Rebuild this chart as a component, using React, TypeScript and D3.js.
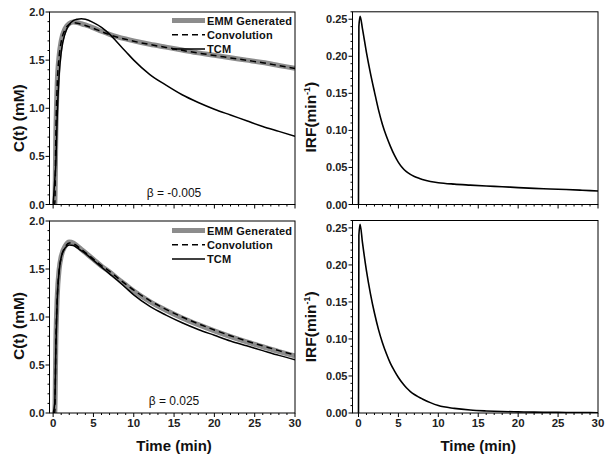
import React from "react";
import * as d3 from "d3";

// ---- Data ----
const timeC = [0, 0.2, 0.35, 0.5, 0.75, 1, 1.5, 2, 2.5, 3, 3.5, 4, 5, 6, 7, 8, 9, 10, 12, 14, 16, 18, 20, 22, 24, 26, 28, 30];

const emmTop = [0, 0, 0.8, 1.25, 1.55, 1.7, 1.83, 1.88, 1.895, 1.89, 1.878, 1.865, 1.835, 1.8, 1.768, 1.742, 1.72, 1.7, 1.665, 1.635, 1.605, 1.575, 1.55, 1.525, 1.5, 1.475, 1.445, 1.415];
const convTop = [0, 0, 0.78, 1.23, 1.54, 1.69, 1.82, 1.872, 1.888, 1.884, 1.873, 1.86, 1.83, 1.796, 1.764, 1.738, 1.716, 1.696, 1.662, 1.632, 1.602, 1.573, 1.548, 1.523, 1.498, 1.473, 1.443, 1.413];
const tcmTop = [0, 0.25, 0.45, 0.9, 1.35, 1.58, 1.78, 1.87, 1.91, 1.925, 1.93, 1.925, 1.89, 1.84, 1.77, 1.68, 1.59, 1.5, 1.35, 1.24, 1.14, 1.06, 0.99, 0.93, 0.87, 0.81, 0.76, 0.71];

const emmBot = [0, 0, 0.8, 1.2, 1.5, 1.63, 1.74, 1.78, 1.77, 1.74, 1.705, 1.67, 1.6, 1.53, 1.47, 1.4, 1.335, 1.27, 1.16, 1.07, 0.99, 0.92, 0.855, 0.795, 0.74, 0.69, 0.64, 0.595];
const convBot = [0, 0, 0.78, 1.18, 1.49, 1.62, 1.73, 1.772, 1.765, 1.738, 1.705, 1.672, 1.603, 1.535, 1.476, 1.408, 1.343, 1.28, 1.17, 1.08, 1.0, 0.93, 0.865, 0.805, 0.75, 0.7, 0.65, 0.605];
const tcmBot = [0, 0.1, 0.7, 1.15, 1.48, 1.62, 1.72, 1.75, 1.745, 1.72, 1.69, 1.66, 1.59, 1.52, 1.45, 1.38, 1.305, 1.23, 1.11, 1.02, 0.94, 0.87, 0.81, 0.75, 0.7, 0.65, 0.6, 0.555];

const timeIRF = [0, 0.05, 0.2, 0.5, 1, 1.5, 2, 2.5, 3, 3.5, 4, 4.5, 5, 5.5, 6, 6.5, 7, 7.5, 8, 9, 10, 12, 14, 16, 18, 20, 22, 24, 26, 28, 30];
const irfTop = [0, 0.24, 0.254, 0.237, 0.205, 0.177, 0.152, 0.128, 0.108, 0.092, 0.0785, 0.0665, 0.0568, 0.0495, 0.0443, 0.0406, 0.0378, 0.0356, 0.0338, 0.0311, 0.0294, 0.0275, 0.0262, 0.025, 0.024, 0.0228, 0.0218, 0.021, 0.0202, 0.0192, 0.0182];
const irfBot = [0, 0.24, 0.255, 0.23, 0.192, 0.161, 0.135, 0.113, 0.095, 0.08, 0.067, 0.057, 0.048, 0.0405, 0.034, 0.029, 0.025, 0.0218, 0.019, 0.014, 0.01, 0.0062, 0.004, 0.0028, 0.002, 0.0015, 0.0012, 0.0009, 0.0007, 0.0005, 0.0004];

const xTicks = [0, 5, 10, 15, 20, 25, 30];
const cTicks = [0.0, 0.5, 1.0, 1.5, 2.0];
const irfTicks = [0.0, 0.05, 0.1, 0.15, 0.2, 0.25];
const legendLabels = ["EMM Generated", "Convolution", "TCM"];
const betaLabels = ["β = -0.005", "β = 0.025"];

const FONT = "'Liberation Sans', Arial, sans-serif";

type Series = { values: number[]; t: number[]; color: string; width: number; dash?: string };

function Panel(props: {
  x0: number; x1: number; y0: number; y1: number;
  xDomain: [number, number]; yDomain: [number, number];
  yTicks: number[]; yFmt: (v: number) => string; yMinorStep: number;
  series: Series[]; showXLabels: boolean; yLabel: React.ReactNode; yLabelX: number; yLabelShift: number;
  legend?: { x: number; y: number }; beta?: string;
}) {
  const { x0, x1, y0, y1 } = props;
  const xs = d3.scaleLinear().domain(props.xDomain).range([x0, x1]);
  const ys = d3.scaleLinear().domain(props.yDomain).range([y1, y0]);
  const minorX = d3.range(0, 31, 1).filter((v) => v % 5 !== 0);
  const minorY: number[] = [];
  for (let v = props.yDomain[0]; v <= props.yDomain[1] + 1e-9; v += props.yMinorStep) {
    const isMajor = props.yTicks.some((m) => Math.abs(m - v) < 1e-6);
    if (!isMajor) minorY.push(v);
  }
  return (
    <g>
      <defs>
        <clipPath id={`clip-${x0}-${y0}`}>
          <rect x={x0} y={y0} width={x1 - x0} height={y1 - y0} />
        </clipPath>
      </defs>
      <g clipPath={`url(#clip-${x0}-${y0})`}>
        {props.series.map((s, i) => {
          const line = d3
            .line<number>()
            .x((_, j) => xs(s.t[j]))
            .y((d) => ys(d))
            .curve(d3.curveMonotoneX);
          return (
            <path key={i} d={line(s.values) || ""} fill="none" stroke={s.color} strokeWidth={s.width}
              strokeDasharray={s.dash} strokeLinejoin="round" />
          );
        })}
      </g>
      <rect x={x0} y={y0} width={x1 - x0} height={y1 - y0} fill="none" stroke="#000" strokeWidth={1} />
      {xTicks.map((v) => (
        <line key={"xt" + v} x1={xs(v)} x2={xs(v)} y1={y1} y2={y1 + 4} stroke="#000" />
      ))}
      {minorX.map((v) => (
        <line key={"xm" + v} x1={xs(v)} x2={xs(v)} y1={y1} y2={y1 + 2} stroke="#000" />
      ))}
      {props.showXLabels &&
        xTicks.map((v) => (
          <text key={"xl" + v} x={xs(v)} y={y1 + 14} textAnchor="middle" fontSize={11.5} fontWeight="bold" fontFamily={FONT} fill="#222">
            {v}
          </text>
        ))}
      {props.yTicks.map((v) => (
        <g key={"yt" + v}>
          <line x1={x0 - 4} x2={x0} y1={ys(v)} y2={ys(v)} stroke="#000" />
          <text x={x0 - 5} y={ys(v) + 4} textAnchor="end" fontSize={11} fontWeight="bold" fontFamily={FONT} fill="#222">
            {props.yFmt(v)}
          </text>
        </g>
      ))}
      {minorY.map((v, i) => (
        <line key={"ym" + i} x1={x0 - 2} x2={x0} y1={ys(v)} y2={ys(v)} stroke="#000" />
      ))}
      <text transform={`translate(${props.yLabelX},${(y0 + y1) / 2 + props.yLabelShift}) rotate(-90)`} textAnchor="middle"
        fontSize={15.5} fontWeight="bold" fontFamily={FONT} fill="#111">
        {props.yLabel}
      </text>
      {props.showXLabels && (
        <text x={(xs(0) + x1) / 2} y={y1 + 38} textAnchor="middle" fontSize={15} fontWeight="bold" fontFamily={FONT} fill="#111">
          Time (min)
        </text>
      )}
      {props.legend && (
        <g fontFamily={FONT} fontSize={11} fontWeight="bold" fill="#111">
          {legendLabels.map((lab, i) => {
            const s = props.series[i];
            const ly = props.legend!.y + i * 14.3;
            return (
              <g key={lab}>
                <line x1={props.legend!.x} x2={props.legend!.x + 33} y1={ly} y2={ly} stroke={s.color}
                  strokeWidth={s.width} strokeDasharray={s.dash} />
                <text x={props.legend!.x + 35} y={ly + 4.2} letterSpacing={0.15}>{lab}</text>
              </g>
            );
          })}
        </g>
      )}
      {props.beta && (
        <text x={174} y={y1 - 8} textAnchor="middle" fontFamily={FONT} fontSize={12} fill="#111">
          {props.beta}
        </text>
      )}
    </g>
  );
}

export default function App() {
  const gray = "#8c8c8c";
  const topSeries: Series[] = [
    { values: emmTop, t: timeC, color: gray, width: 5 },
    { values: convTop, t: timeC, color: "#000", width: 1.5, dash: "6,4" },
    { values: tcmTop, t: timeC, color: "#000", width: 1.5 },
  ];
  const botSeries: Series[] = [
    { values: emmBot, t: timeC, color: gray, width: 5 },
    { values: convBot, t: timeC, color: "#000", width: 1.5, dash: "6,4" },
    { values: tcmBot, t: timeC, color: "#000", width: 1.5 },
  ];
  const irfLabel = (
    <>
      IRF(min
      <tspan fontSize={9} dy={-6}>-1</tspan>
      <tspan dy={6}>)</tspan>
    </>
  );
  const cFmt = (v: number) => v.toFixed(1);
  const irfFmt = (v: number) => v.toFixed(2);
  return (
    <svg width={609} height={459} style={{ position: "absolute", left: 0, top: 0, background: "#fff" }}>
      <rect width={609} height={459} fill="#fff" />
      <Panel x0={49.5} x1={295} y0={12} y1={204.5} xDomain={[-0.45, 30]} yDomain={[0, 2.0]}
        yTicks={cTicks} yFmt={cFmt} yMinorStep={0.1} series={topSeries} showXLabels={false}
        yLabel="C(t) (mM)" yLabelX={24} yLabelShift={10} legend={{ x: 172, y: 20.5 }} beta={betaLabels[0]} />
      <Panel x0={49.5} x1={295} y0={221} y1={413} xDomain={[-0.45, 30]} yDomain={[0, 2.0]}
        yTicks={cTicks} yFmt={cFmt} yMinorStep={0.1} series={botSeries} showXLabels={true}
        yLabel="C(t) (mM)" yLabelX={24} yLabelShift={9} legend={{ x: 172, y: 230.5 }} beta={betaLabels[1]} />
      <Panel x0={352.5} x1={598} y0={11.8} y1={204.5} xDomain={[-0.75, 30]} yDomain={[0, 0.26]}
        yTicks={irfTicks} yFmt={irfFmt} yMinorStep={0.01}
        series={[{ values: irfTop, t: timeIRF, color: "#000", width: 1.6 }]} showXLabels={false}
        yLabel={irfLabel} yLabelX={316} yLabelShift={9} />
      <Panel x0={352.5} x1={598} y0={220.5} y1={413} xDomain={[-0.75, 30]} yDomain={[0, 0.26]}
        yTicks={irfTicks} yFmt={irfFmt} yMinorStep={0.01}
        series={[{ values: irfBot, t: timeIRF, color: "#000", width: 1.6 }]} showXLabels={true}
        yLabel={irfLabel} yLabelX={316} yLabelShift={10} />
    </svg>
  );
}
